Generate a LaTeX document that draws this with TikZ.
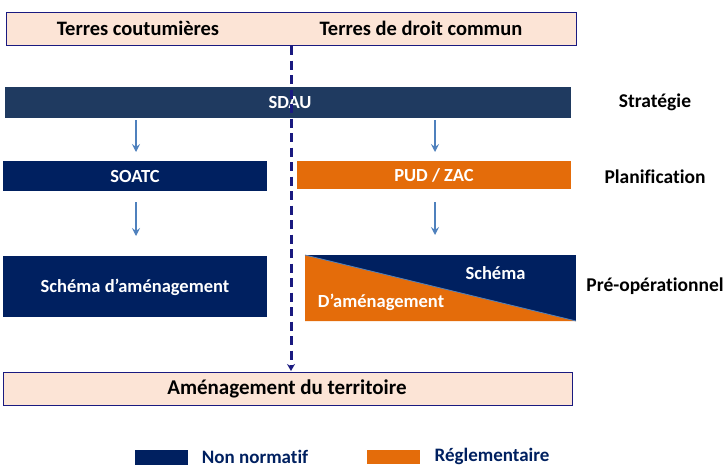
\documentclass[tikz,border=0pt]{standalone}
\usepackage{fontspec}
\setmainfont{Carlito}[Ligatures={NoCommon}]
\usetikzlibrary{arrows.meta}
\definecolor{peach}{HTML}{FCE4D6}
\definecolor{navyA}{HTML}{002060}
\definecolor{slateA}{HTML}{1F3A60}
\definecolor{orangeA}{HTML}{E46C0A}
\definecolor{arrowA}{HTML}{4F81BD}
\definecolor{dashA}{HTML}{1A1A80}
\begin{document}
\begin{tikzpicture}[x=1pt,y=-1pt,
  lbl/.style={font=\bfseries\fontsize{20.5}{22}\selectfont},
  wlbl/.style={font=\bfseries\fontsize{18.5}{20}\selectfont,text=white},
  side/.style={font=\bfseries\fontsize{19.5}{21}\selectfont},
  leg/.style={font=\bfseries\fontsize{19}{21}\selectfont,text=navyA},
  down/.style={-{Stealth[length=8pt,width=8pt,inset=3pt]},arrowA,line width=1.5pt},
  peachbox/.style={fill=peach,draw=dashA,line width=0.7pt}]
\useasboundingbox (0,0) rectangle (726,474);
% top box
\path[peachbox] (6,12.5) rectangle (576,45);
\node[lbl] (tc) at (138,28) {Terres coutumières};
\node[lbl] (td) at (421,28) {Terres de droit commun};
% bottom box
\path[peachbox] (3,372) rectangle (572,405);
\node[lbl,font=\bfseries\fontsize{21}{23}\selectfont] (amt) at (287,389) {Aménagement du territoire};
% SDAU
\fill[slateA] (5,87) rectangle (571,118);
\node[wlbl] (sdau) at (290,102) {SDAU};
\node[side] (strat) at (655,102) {Stratégie};
% SOATC, PUD
\fill[navyA] (3,161) rectangle (267,191);
\node[wlbl] (soatc) at (135,176) {SOATC};
\fill[orangeA] (297,161) rectangle (571,189);
\node[wlbl] (pud) at (434,175) {PUD / ZAC};
\node[side] (plan) at (655,177) {Planification};
% Schema
\fill[navyA] (3,256) rectangle (267,317);
\node[wlbl] (sch) at (135,287) {Schéma d’aménagement};
\fill[navyA] (305,255) rectangle (576,321);
\fill[orangeA] (305,255) -- (576,321) -- (305,321) -- cycle;
\draw[arrowA,line width=0.8pt] (305,255) -- (576,321);
\node[wlbl] (sch2) at (495.5,273) {Schéma};
\node[wlbl] (dam) at (381,302) {D’aménagement};
\node[side] (preop) at (655,286) {Pré-opérationnel};
% arrows
\coordinate (a1s) at (136,120); \coordinate (a1e) at (136,152);
\coordinate (a2s) at (435,120); \coordinate (a2e) at (435,152);
\coordinate (a3s) at (136,202); \coordinate (a3e) at (136,236);
\coordinate (a4s) at (435,202); \coordinate (a4e) at (435,235);
\draw[down] (a1s) -- (a1e);
\draw[down] (a2s) -- (a2e);
\draw[down] (a3s) -- (a3e);
\draw[down] (a4s) -- (a4e);
% dashed divider
\coordinate (ds) at (291,46); \coordinate (de) at (291,371);
\draw[dashA,line width=3pt,dash pattern=on 9pt off 5.5pt,-{Stealth[length=7pt,width=8pt]}] (ds) -- (de);
% legend
\fill[navyA] (135,450) rectangle (188,465);
\node[leg] (nn) at (255,457) {Non normatif};
\fill[orangeA] (367,450) rectangle (420,464);
\node[leg] (reg) at (492,456) {Réglementaire};
\end{tikzpicture}
\end{document}
